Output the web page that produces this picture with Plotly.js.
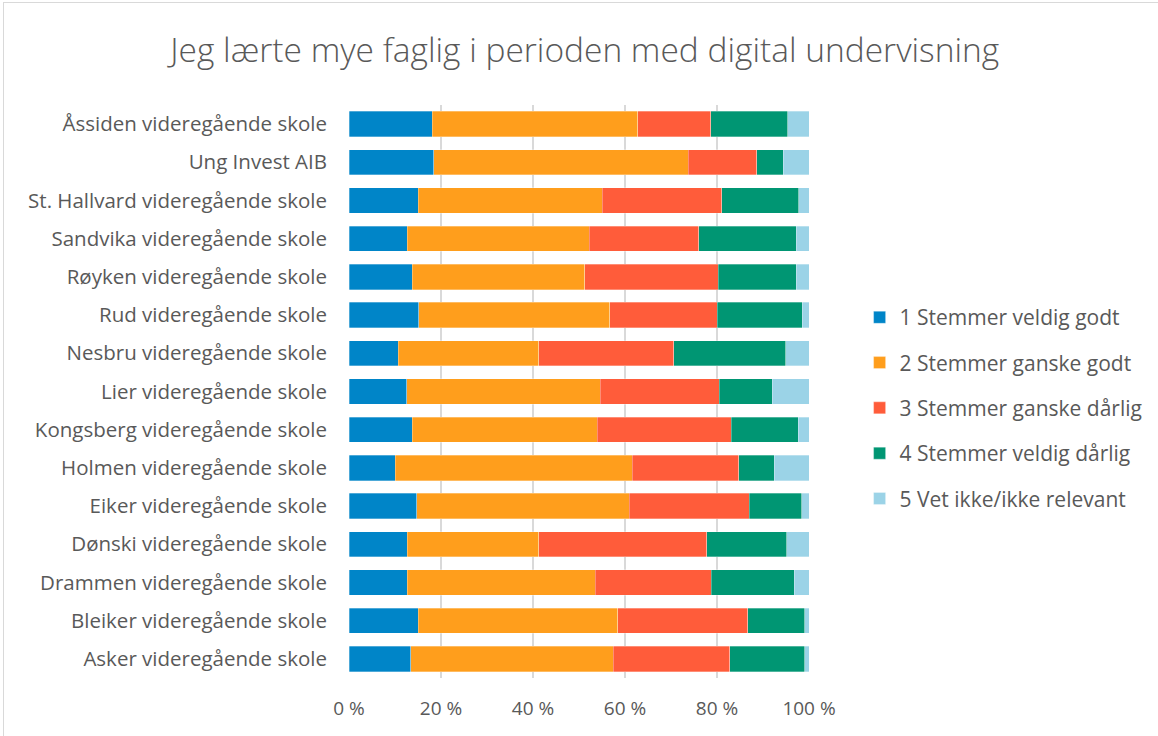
<!DOCTYPE html>
<html>
<head>
<meta charset="utf-8">
<script src="https://cdn.plot.ly/plotly-3.0.1.min.js"></script>
<style>
html,body{margin:0;padding:0;background:#fff;}
#wrap{position:relative;width:1158px;height:736px;overflow:hidden;}
#frame{position:absolute;left:3px;top:2px;width:1170px;height:760px;border:1px solid #d9d9d9;box-sizing:border-box;pointer-events:none;z-index:5;}
#chart{position:absolute;left:0;top:0;width:1158px;height:736px;}
</style>
</head>
<body>
<div id="wrap"><div id="chart"></div><div id="frame"></div></div>
<script>
const schools = [
  "Åssiden videregående skole",
  "Ung Invest AIB",
  "St. Hallvard videregående skole",
  "Sandvika videregående skole",
  "Røyken videregående skole",
  "Rud videregående skole",
  "Nesbru videregående skole",
  "Lier videregående skole",
  "Kongsberg videregående skole",
  "Holmen videregående skole",
  "Eiker videregående skole",
  "Dønski videregående skole",
  "Drammen videregående skole",
  "Bleiker videregående skole",
  "Asker videregående skole"
];
const seriesNames = [
  "1 Stemmer veldig godt",
  "2 Stemmer ganske godt",
  "3 Stemmer ganske dårlig",
  "4 Stemmer veldig dårlig",
  "5 Vet ikke/ikke relevant"
];
const veldigGodt   = [18.1, 18.4, 15.0, 12.7, 13.7, 15.2, 10.7, 12.5, 13.8, 10.1, 14.7, 12.7, 12.7, 15.0, 13.4];
const ganskeGodt   = [44.7, 55.3, 40.0, 39.5, 37.5, 41.5, 30.6, 42.1, 40.2, 51.5, 46.2, 28.6, 40.8, 43.4, 44.0];
const ganskeDarlig = [15.8, 14.9, 26.0, 23.8, 29.1, 23.3, 29.3, 25.9, 29.1, 23.1, 26.1, 36.5, 25.2, 28.3, 25.4];
const veldigDarlig = [16.8,  5.8, 16.8, 21.2, 16.9, 18.5, 24.3, 11.5, 14.6,  7.7, 11.4, 17.4, 18.1, 12.4, 16.3];
const vetIkke      = [ 4.6,  5.6,  2.2,  2.8,  2.8,  1.5,  5.1,  8.0,  2.3,  7.6,  1.6,  4.8,  3.2,  0.9,  0.9];
const tickVals = [0, 20, 40, 60, 80, 100];
const tickText = ["0 %", "20 %", "40 %", "60 %", "80 %", "100 %"];

const colors = ["#0085c8", "#ff9e1c", "#ff5c3a", "#009673", "#9bd3e7"];
const allSeries = [veldigGodt, ganskeGodt, ganskeDarlig, veldigDarlig, vetIkke];

const traces = allSeries.map((vals, i) => ({
  type: "bar",
  orientation: "h",
  name: seriesNames[i],
  y: schools,
  x: vals,
  legendgroup: "g" + i,
  marker: {color: colors[i], line: {width: 0.5, color: "rgba(255,255,255,0.6)"}},
  hoverinfo: "name+x"
}));

const font = "'Open Sans', sans-serif";
const layout = {
  width: 1158, height: 736,
  barmode: "stack",
  bargap: 0.34,
  paper_bgcolor: "#fff",
  plot_bgcolor: "#fff",
  margin: {l: 349, r: 349, t: 105, b: 58, autoexpand: false},
  title: {text: "Jeg lærte mye faglig i perioden med digital undervisning",
          font: {family: font, size: 33.5, color: "#595959", weight: 300},
          x: 0.505, xanchor: "center", y: 0.932, yanchor: "middle"},
  xaxis: {range: [0, 100], tickvals: tickVals, ticktext: tickText,
          showgrid: true, gridcolor: "#d9d9d9", gridwidth: 1.5,
          zeroline: false, showline: false, ticks: "",
          ticklabelstandoff: 17,
          tickfont: {family: font, size: 19, color: "#595959"}, fixedrange: true},
  yaxis: {categoryorder: "array", categoryarray: schools, autorange: "reversed",
          showgrid: false, ticks: "", ticklen: 0, showline: false,
          ticklabelstandoff: 21,
          tickfont: {family: font, size: 20.5, color: "#595959"}, fixedrange: true},
  legend: {x: 1.11, xanchor: "left", y: 0.471, yanchor: "middle",
           traceorder: "grouped", tracegroupgap: 15,
           font: {family: font, size: 21, color: "#595959"},
           itemwidth: 30},
  showlegend: true
};
Plotly.newPlot("chart", traces, layout, {displayModeBar: false, staticPlot: false});
</script>
</body>
</html>
